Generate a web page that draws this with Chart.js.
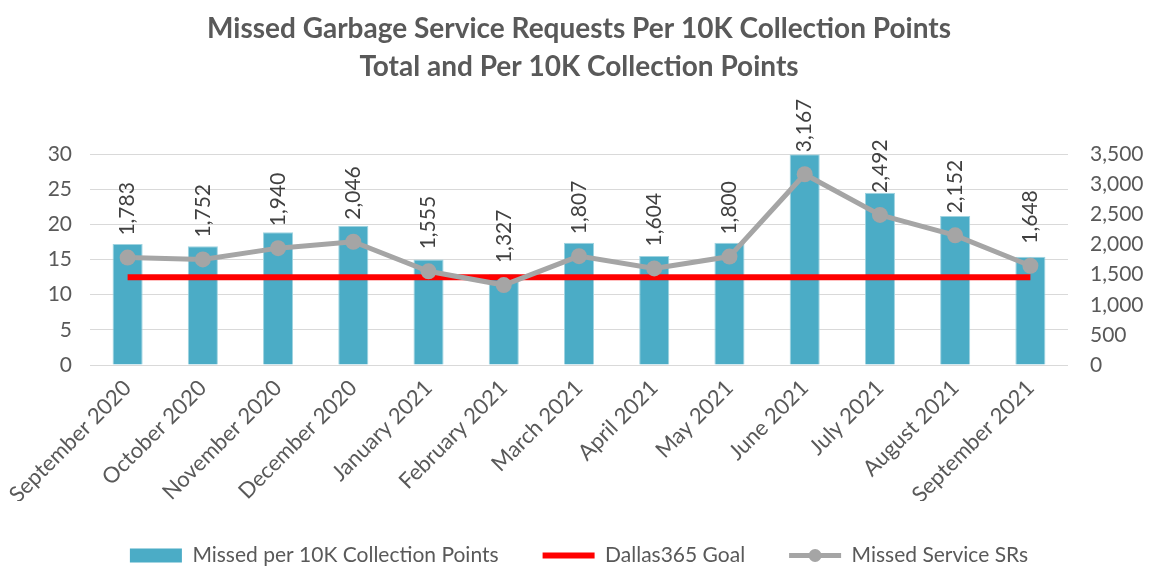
<!DOCTYPE html>
<html>
<head>
<meta charset="utf-8">
<script src="https://cdn.jsdelivr.net/npm/chart.js@4.4.0/dist/chart.umd.min.js"></script>
<style>
  html, body { margin: 0; padding: 0; background: #fff; }
  #wrap { width: 1153px; height: 573px; }
</style>
</head>
<body>
<div id="wrap"><canvas id="chart"></canvas></div>
<script>
// data
const months = ['September 2020', 'October 2020', 'November 2020', 'December 2020', 'January 2021',
  'February 2021', 'March 2021', 'April 2021', 'May 2021', 'June 2021', 'July 2021', 'August 2021', 'September 2021'];
const missedPer10K = [17.2, 16.9, 18.9, 19.8, 15.0, 12.9, 17.4, 15.5, 17.4, 30.0, 24.5, 21.2, 15.4];
const goal = [12.5, 12.5, 12.5, 12.5, 12.5, 12.5, 12.5, 12.5, 12.5, 12.5, 12.5, 12.5, 12.5];
const missedSRs = [1783, 1752, 1940, 2046, 1555, 1327, 1807, 1604, 1800, 3167, 2492, 2152, 1648];

const FONT = 'Lato, "Open Sans", sans-serif';
const GREY_TEXT = '#595959';

// rotated value labels above the SR points
const srLabels = {
  id: 'srLabels',
  afterDatasetsDraw(chart) {
    const meta = chart.getDatasetMeta(2);
    const ctx = chart.ctx;
    ctx.save();
    ctx.font = '21px ' + FONT;
    ctx.fillStyle = '#404040';
    ctx.textAlign = 'left';
    ctx.textBaseline = 'middle';
    meta.data.forEach((pt, i) => {
      ctx.save();
      ctx.translate(pt.x, pt.y - 22);
      ctx.rotate(-Math.PI / 2);
      ctx.fillText(missedSRs[i].toLocaleString('en-US'), 0, 0);
      ctx.restore();
    });
    ctx.restore();
  }
};

// dot on the SR legend line
const legendDot = {
  id: 'legendDot',
  afterDraw(chart) {
    const boxes = chart.legend && chart.legend.legendHitBoxes;
    if (!boxes || !boxes[2]) return;
    const b = boxes[2];
    const ctx = chart.ctx;
    ctx.save();
    ctx.fillStyle = '#A5A5A5';
    ctx.beginPath();
    ctx.arc(b.left + 26, b.top + b.height / 2, 6.5, 0, Math.PI * 2);
    ctx.fill();
    ctx.restore();
  }
};

new Chart(document.getElementById('chart'), {
  type: 'bar',
  data: {
    labels: months,
    datasets: [
      {
        label: 'Missed per 10K Collection Points',
        data: missedPer10K,
        backgroundColor: '#4BACC6',
        borderColor: '#9fd3e0',
        borderWidth: 1,
        categoryPercentage: 1,
        barPercentage: 0.4,
        yAxisID: 'y',
        order: 3
      },
      {
        type: 'line',
        label: 'Dallas365 Goal',
        data: goal,
        borderColor: '#FF0000',
        backgroundColor: '#FF0000',
        borderWidth: 6,
        pointRadius: 0,
        yAxisID: 'y',
        order: 2
      },
      {
        type: 'line',
        label: 'Missed Service SRs',
        data: missedSRs,
        borderColor: '#A5A5A5',
        backgroundColor: '#A5A5A5',
        borderWidth: 5,
        pointRadius: 8,
        pointBackgroundColor: '#A5A5A5',
        pointBorderWidth: 0,
        yAxisID: 'y1',
        order: 1
      }
    ]
  },
  options: {
    responsive: true,
    maintainAspectRatio: false,
    animation: false,
    layout: { padding: { left: 10, right: 5, top: 0, bottom: 2 } },
    plugins: {
      title: {
        display: true,
        text: ['Missed Garbage Service Requests Per 10K Collection Points', 'Total and Per 10K Collection Points'],
        color: GREY_TEXT,
        font: { family: FONT, size: 28, weight: 'bold', lineHeight: 1.36 },
        padding: { top: 10, bottom: 68 }
      },
      legend: {
        position: 'bottom',
        maxHeight: 70,
        labels: {
          color: GREY_TEXT,
          font: { family: FONT, size: 21 },
          usePointStyle: true,
          pointStyleWidth: 52,
          boxHeight: 14,
          padding: 44,
          generateLabels(chart) {
            const sets = chart.data.datasets;
            return [
              { text: sets[0].label, fillStyle: '#4BACC6', strokeStyle: '#4BACC6', lineWidth: 0, pointStyle: 'rect', datasetIndex: 0, fontColor: GREY_TEXT },
              { text: sets[1].label, fillStyle: '#FF0000', strokeStyle: '#FF0000', lineWidth: 6, pointStyle: 'line', datasetIndex: 1, fontColor: GREY_TEXT },
              { text: sets[2].label, fillStyle: '#A5A5A5', strokeStyle: '#A5A5A5', lineWidth: 5, pointStyle: 'line', datasetIndex: 2, fontColor: GREY_TEXT }
            ];
          }
        }
      },
      tooltip: { enabled: false }
    },
    scales: {
      x: {
        grid: { display: false },
        border: { display: false },
        afterFit(scale) { scale.height = 136; },
        ticks: {
          color: GREY_TEXT,
          font: { family: FONT, size: 22 },
          minRotation: 45,
          maxRotation: 45,
          autoSkip: false,
          padding: 2
        }
      },
      y: {
        position: 'left',
        min: 0,
        max: 30,
        afterFit(scale) { scale.width = 80; },
        grid: { color: '#D9D9D9', lineWidth: 1, drawTicks: false },
        border: { display: false },
        ticks: { stepSize: 5, color: GREY_TEXT, font: { family: FONT, size: 21 }, padding: 18 }
      },
      y1: {
        position: 'right',
        min: 0,
        max: 3500,
        afterFit(scale) { scale.width = 80; },
        grid: { display: false, drawTicks: false },
        border: { display: false },
        ticks: {
          stepSize: 500,
          color: GREY_TEXT,
          font: { family: FONT, size: 21 },
          padding: 22,
          callback: v => v.toLocaleString('en-US')
        }
      }
    }
  },
  plugins: [srLabels, legendDot]
});
</script>
</body>
</html>
